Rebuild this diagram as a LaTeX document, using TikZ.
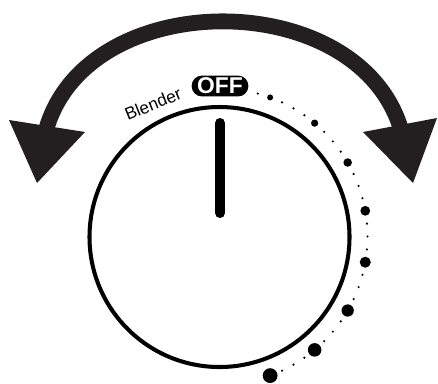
\documentclass[tikz,border=0pt]{standalone}
\usepackage{fontspec}
\setmainfont{Liberation Sans}
\usetikzlibrary{arrows.meta}
\definecolor{arrowgray}{RGB}{35,31,32}

\begin{document}
\begin{tikzpicture}[x=0.02cm, y=-0.02cm,
  bigdot/.style={fill=black},
  tinydot/.style={fill=black}]

\useasboundingbox (0,0) rectangle (438,383);

% Turning arrow
\draw[arrowgray, line width=9pt] (45,134) .. controls (82,-16) and (362,-16) .. (402,133);
\fill[arrowgray] (9,120) -- (85,132) -- (37,183) -- cycle;
\fill[arrowgray] (363,132) -- (437,118) -- (413,183) -- cycle;

% Dial
\draw[line width=2.3pt] (219.5,237) circle[radius=130];
\draw[line width=5.7pt, line cap=round] (220,123) -- (220,213);

% Scale: big dots every 20 degrees
\foreach \k in {0,...,7} {
  \pgfmathsetmacro{\a}{20+20*\k}
  \fill[bigdot] ({219.5+148*sin(\a)},{236.5-148*cos(\a)}) circle[radius={3+0.63*\k}];
}

% Scale: small dots in between
\foreach \a in {15,25,30,35,45,50,55,65,70,75,85,90,95,105,110,115,125,130,135,145,150,155}
  \fill[tinydot] ({219.5+148*sin(\a)},{236.5-148*cos(\a)}) circle[radius=1.2];

% Labels
\node[fill=black, text=white, rounded corners=5.9pt, minimum width=32.3pt,
  minimum height=11.9pt, inner sep=0pt, font=\bfseries\fontsize{13}{13}\selectfont]
  (off) at (220,86) {OFF};
\node[rotate=22, inner sep=0pt, font=\fontsize{9.8}{11}\selectfont]
  (blender) at (153,104) {Blender};

\end{tikzpicture}
\end{document}
